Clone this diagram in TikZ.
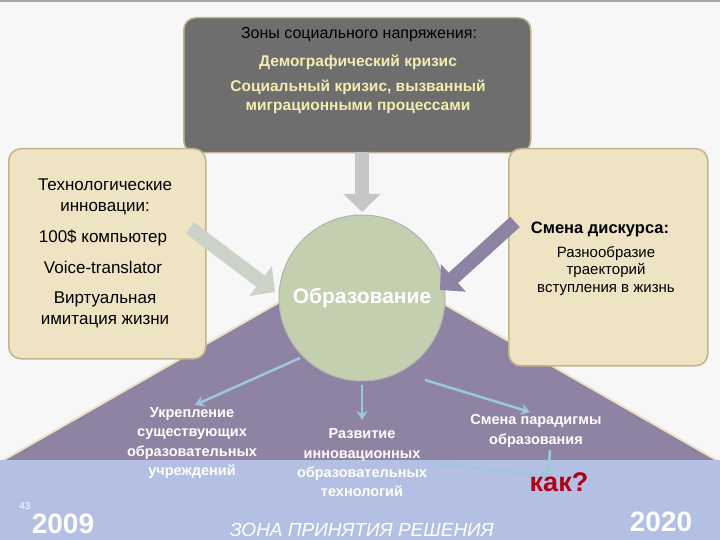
\documentclass[tikz,border=0pt]{standalone}
\usepackage{fontspec}
\setmainfont{Liberation Sans}
\usetikzlibrary{arrows.meta,shapes.arrows}
\definecolor{topbox}{HTML}{6E6E6E}
\definecolor{beige}{HTML}{EEE4C4}
\definecolor{beigeb}{HTML}{C2B48A}
\definecolor{purp}{HTML}{8E83A3}
\definecolor{band}{HTML}{B3C0E4}
\definecolor{circ}{HTML}{C4CFAF}
\definecolor{thin}{HTML}{9DC8DC}
\definecolor{yel}{HTML}{F3EDB0}
\definecolor{redk}{HTML}{B00018}
\definecolor{lgreen}{HTML}{CDD2C8}
\tikzset{
 box/.style={rounded corners=12pt,draw=beigeb,line width=1.5pt},
 thinarr/.style={draw=thin,line width=2.5pt,-{Stealth[length=9pt,width=11pt]}},
 blk/.style={line width=14pt,-{Triangle[length=18pt,width=36pt]}},
 lbl/.style={align=center,font=\fontsize{16}{19}\selectfont},
 ylbl/.style={align=center,text=yel,font=\bfseries\fontsize{15.5}{19}\selectfont},
 bl/.style={align=center,font=\fontsize{17}{21}\selectfont},
 wlbl/.style={align=center,text=white,font=\bfseries\fontsize{14.5}{19.3}\selectfont},
 year/.style={text=white,font=\bfseries\fontsize{28}{30}\selectfont}
}
\begin{document}
\begin{tikzpicture}[x=1pt,y=-1pt]
\useasboundingbox (0,0) rectangle (720,540);
\fill[gray!6] (0,0) rectangle (720,540);
\fill[gray!70] (0,0) rectangle (720,2);
\fill[purp,draw=beige,line width=2pt] (0,462) -- (360,256) -- (720,462) -- cycle;
\fill[band] (0,460) rectangle (720,540);
\node[box,fill=topbox,minimum width=347pt,minimum height=135pt,anchor=north west] (top) at (183,17) {};
\node[box,fill=beige,minimum width=197pt,minimum height=210pt,anchor=north west] (lb) at (8,148) {};
\node[box,fill=beige,minimum width=199pt,minimum height=217pt,anchor=north west] (rb) at (508,148) {};
\node[circle,fill=circ,draw=gray!60,line width=1pt,minimum size=166pt] (c) at (362,298) {};
\node[text=white,font=\bfseries\fontsize{21}{24}\selectfont] (edu) at (362,298) {Образование};
\draw[blk,gray!45] (362,152) coordinate (a0) -- (362,212) coordinate (a1);
\draw[blk,lgreen] (190,228) coordinate (b0) -- (275,292) coordinate (b1);
\draw[blk,purp] (515,222) coordinate (d0) -- (440,290) coordinate (d1);
\node[lbl] (t1) at (359,35) {Зоны социального напряжения:};
\node[ylbl] (t2) at (358,62) {Демографический кризис};
\node[ylbl] (t3) at (358,97) {Социальный кризис, вызванный\\миграционными процессами};
\node[bl] (l1) at (105,197) {Технологические\\инновации:};
\node[bl] (l2) at (103,238) {100\$ компьютер};
\node[bl] (l3) at (103,267) {Voice-translator};
\node[bl] (l4) at (105,310) {Виртуальная\\имитация жизни};
\node[bl,font=\bfseries\fontsize{16.5}{20}\selectfont] (r1) at (600,229) {Смена дискурса:};
\node[align=center,font=\fontsize{15}{17.5}\selectfont] (r2) at (606,271) {Разнообразие\\траекторий\\вступления в жизнь};
\node[wlbl] (w1) at (192,443) {Укрепление\\существующих\\образовательных\\учреждений};
\node[wlbl] (w2) at (362,463) {Развитие\\инновационных\\образовательных\\технологий};
\node[wlbl] (w3) at (536,431) {Смена парадигмы\\образования};
\coordinate (k) at (548,476);
\draw[thinarr] (300,358) -- (195,405);
\draw[thinarr] (362,385) -- (362,420);
\draw[thinarr] (425,380) -- (530,412);
\draw[thinarr] (550,450) -- (k);
\draw[thinarr] (422,462) -- (k);
\node[text=redk,font=\bfseries\fontsize{27}{30}\selectfont] (kak) at (559,482) {как?};
\node[text=white,font=\fontsize{10}{11}\selectfont] (n43) at (25,506) {43};
\node[year] (y1) at (63,524) {2009};
\node[year] (y2) at (661,522) {2020};
\node[text=white,font=\itshape\fontsize{19}{21}\selectfont] (zona) at (362,530) {ЗОНА ПРИНЯТИЯ РЕШЕНИЯ};
\end{tikzpicture}
\end{document}
